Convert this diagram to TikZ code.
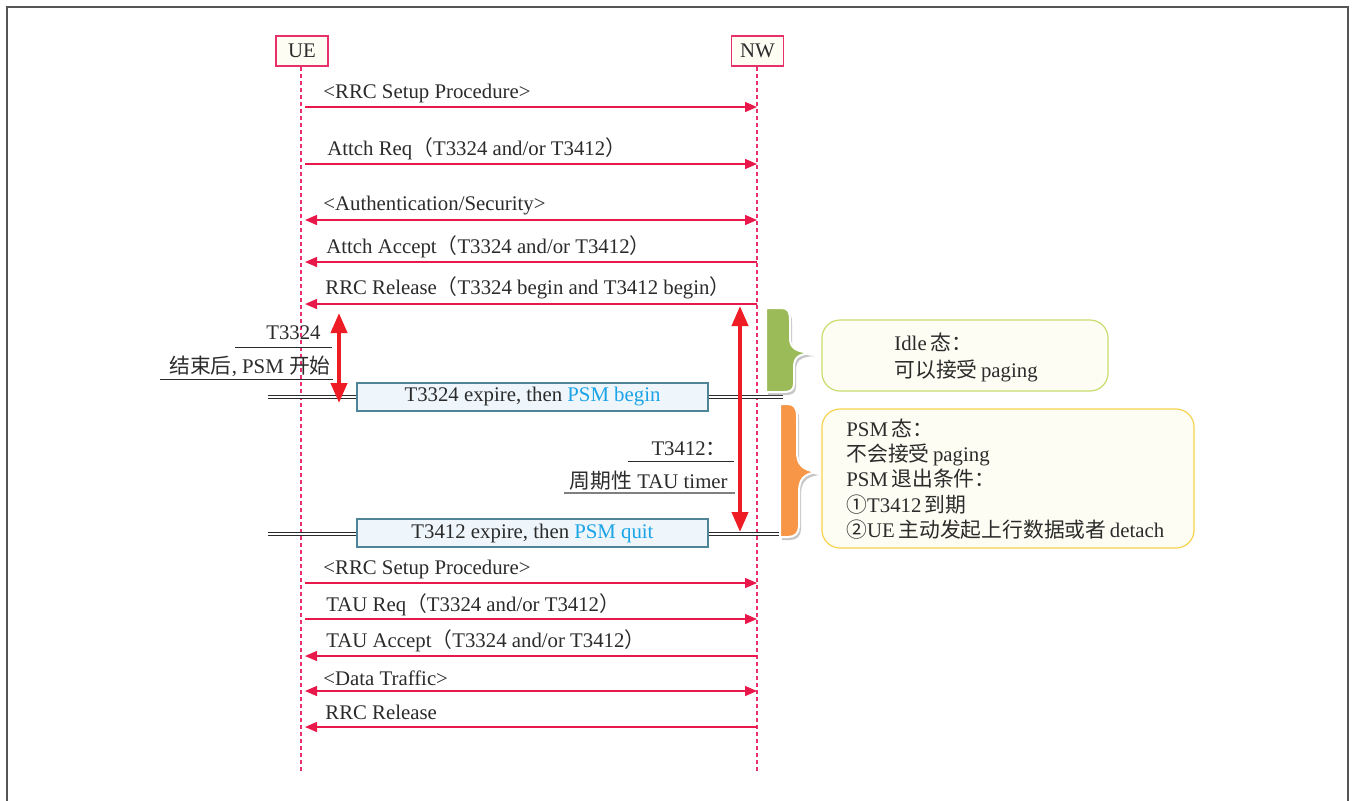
\documentclass[tikz,border=0pt]{standalone}
\usepackage{fontspec}
\setmainfont{Liberation Serif}
\newfontfamily\cjk{Noto Sans CJK SC}
\usetikzlibrary{arrows.meta}
\definecolor{txt}{HTML}{2B2B2B}
\definecolor{msg}{HTML}{E8194A}
\definecolor{life}{HTML}{E8306A}
\definecolor{redarr}{HTML}{EE1C25}
\definecolor{psmblue}{HTML}{1AA3E6}
\definecolor{boxfill}{HTML}{EEF6FB}
\definecolor{boxdraw}{HTML}{4E8596}
\definecolor{grn}{HTML}{9BBB59}
\definecolor{org}{HTML}{F79646}
\definecolor{idledraw}{HTML}{C9DD6E}
\definecolor{psmdraw}{HTML}{F6D34C}
\definecolor{notefill}{HTML}{FDFDF4}
\definecolor{framec}{HTML}{555555}
\begin{document}
\begin{tikzpicture}[x=0.5pt,y=-0.5pt, font=\fontsize{10.4}{12}\selectfont, text=txt,
 entity/.style={draw=life, line width=0.8pt, fill=notefill, minimum width=26pt, minimum height=15pt, inner sep=0},
 lifeline/.style={draw=life, line width=0.6pt, dash pattern=on 2pt off 1.5pt},
 msgarrow/.style={draw=msg, line width=0.7pt, -{Triangle[length=6pt,width=5pt]}},
 msgboth/.style={draw=msg, line width=0.7pt, {Triangle[length=6pt,width=5pt]}-{Triangle[length=6pt,width=5pt]}},
 msglabel/.style={anchor=west, inner sep=0},
 timer/.style={draw=redarr, line width=2pt, {Triangle[length=10pt,width=8pt]}-{Triangle[length=10pt,width=8pt]}},
 dline/.style={draw=txt, double=white, line width=0.5pt, double distance=1pt},
 expbox/.style={draw=boxdraw, fill=boxfill, line width=0.6pt, minimum width=175.5pt, minimum height=14pt, inner sep=0},
 note/.style={draw=#1, fill=notefill, line width=0.6pt, rounded corners=9pt, inner sep=0},
 ul/.style={draw=txt, line width=0.5pt},
 notetext/.style={anchor=west, align=left, inner sep=0}
]
\useasboundingbox (0,0) rectangle (1352,800);
\fill[white] (0,0) rectangle (1352,800);
\draw[framec, line width=1pt] (6.5,820) -- (6.5,6.5) -- (1347.5,6.5) -- (1347.5,820);

% entities
\node[entity] (ue) at (302,51) {UE};
\node[entity] (nw) at (757.5,51) {NW};
\coordinate (ueEnd) at (301,772);
\coordinate (nwEnd) at (757,772);
\draw[lifeline] (ue.south -| ueEnd) -- (ueEnd);
\draw[lifeline] (nw.south -| nwEnd) -- (nwEnd);

% messages
\foreach \n/\y in {1/107,2/164,3/220,4/262,5/304,6/583,7/619,8/656,9/691,10/727}{
  \coordinate (u\n) at (305,\y);
  \coordinate (w\n) at (757,\y);
}
\draw[msgarrow] (u1) -- (w1);
\node[msglabel] (l1) at (323,93) {<RRC Setup Procedure>};
\draw[msgarrow] (u2) -- (w2);
\node[msglabel] (l2) at (327,149) {Attch Req{\cjk （}T3324 and/or T3412{\cjk ）}};
\draw[msgboth] (u3) -- (w3);
\node[msglabel] (l3) at (323,206) {<Authentication/Security>};
\draw[msgarrow] (w4) -- (u4);
\node[msglabel] (l4) at (326,247) {Attch Accept{\cjk （}T3324 and/or T3412{\cjk ）}};
\draw[msgarrow] (w5) -- (u5);
\node[msglabel] (l5) at (325,288) {RRC Release{\cjk （}T3324 begin and T3412 begin{\cjk ）}};
\draw[msgarrow] (u6) -- (w6);
\node[msglabel] (l6) at (323,569) {<RRC Setup Procedure>};
\draw[msgarrow] (u7) -- (w7);
\node[msglabel] (l7) at (326,605) {TAU Req{\cjk （}T3324 and/or T3412{\cjk ）}};
\draw[msgarrow] (w8) -- (u8);
\node[msglabel] (l8) at (326,641) {TAU Accept{\cjk （}T3324 and/or T3412{\cjk ）}};
\draw[msgboth] (u9) -- (w9);
\node[msglabel] (l9) at (323,678) {<Data Traffic>};
\draw[msgarrow] (w10) -- (u10);
\node[msglabel] (l10) at (325,712) {RRC Release};

% expire boxes and double lines
\node[expbox] (e1) at (532.5,397) {T3324 expire, then \textcolor{psmblue}{PSM begin}};
\node[expbox] (e2) at (532.5,533) {T3412 expire, then \textcolor{psmblue}{PSM quit}};
\coordinate (d1l) at (268,397); \coordinate (d1r) at (783,397);
\coordinate (d2l) at (268,534); \coordinate (d2r) at (783,534);
\draw[dline] (d1l) -- (e1.west);
\draw[dline] (e1.east) -- (d1r);
\draw[dline] (d2l) -- (e2.west |- d2l);
\draw[dline] (e2.east |- d2r) -- (d2r);

% timers
\coordinate (t1a) at (339,313); \coordinate (t1b) at (339,403);
\coordinate (t2a) at (740,306); \coordinate (t2b) at (740,532);
\draw[timer] (t1a) -- (t1b);
\draw[timer] (t2a) -- (t2b);

% T3324 annotation
\node[anchor=east, inner sep=0] (a1) at (321,333) {T3324};
\draw[ul] (235,347) -- (332,347);
\node[anchor=east, inner sep=0] (a2) at (331,366) {{\cjk 结束后}, PSM {\cjk 开始}};
\draw[ul] (160,379) -- (333,379);

% T3412 annotation
\node[anchor=east, inner sep=0] (b1) at (727,449) {T3412{\cjk ：}};
\draw[ul] (628,461) -- (734,461);
\node[anchor=east, inner sep=0] (b2) at (728,481) {{\cjk 周期性} TAU timer};
\draw[draw=gray, line width=1pt] (564,493) -- (735,493);

% braces
\begin{scope}
\fill[gray!45, shift={(2,3)}] (766,308) -- (782,308) .. controls (788,308) and (790,312) .. (790,320) -- (790,338) .. controls (790,348) and (796,352) .. (813,353) .. controls (797,354) and (794,358) .. (794,368) -- (794,384) .. controls (794,390) and (790,392) .. (784,392) -- (766,392) -- cycle;
\filldraw[fill=grn, draw=white, line width=1pt] (766,308) -- (782,308) .. controls (788,308) and (790,312) .. (790,320) -- (790,338) .. controls (790,348) and (796,352) .. (813,353) .. controls (797,354) and (794,358) .. (794,368) -- (794,384) .. controls (794,390) and (790,392) .. (784,392) -- (766,392) -- cycle;
\fill[gray!45, shift={(2,3)}] (780,404) -- (788,404) .. controls (794,404) and (797,408) .. (797,416) -- (797,452) .. controls (797,464) and (802,470) .. (817,472) .. controls (803,474) and (799,480) .. (799,492) -- (799,526) .. controls (799,533) and (795,537) .. (788,537) -- (780,537) -- cycle;
\filldraw[fill=org, draw=white, line width=1pt] (780,404) -- (788,404) .. controls (794,404) and (797,408) .. (797,416) -- (797,452) .. controls (797,464) and (802,470) .. (817,472) .. controls (803,474) and (799,480) .. (799,492) -- (799,526) .. controls (799,533) and (795,537) .. (788,537) -- (780,537) -- cycle;
\end{scope}

% notes
\draw[note=idledraw] (822,320) rectangle (1108,391);
\node[notetext, font=\fontsize{10.4}{13.5}\selectfont] (idle) at (894,357) {Idle\,{\cjk 态：}\\{\cjk 可以接受}\,paging};
\draw[note=psmdraw] (822,409) rectangle (1194,548);
\node[notetext, font=\fontsize{10.4}{12.7}\selectfont] (psm) at (846,479) {PSM\,{\cjk 态：}\\{\cjk 不会接受}\,paging\\PSM\,{\cjk 退出条件：}\\{\cjk ①}T3412\,{\cjk 到期}\\{\cjk ②}UE\,{\cjk 主动发起上行数据或者}\,detach};
\end{tikzpicture}
\end{document}
